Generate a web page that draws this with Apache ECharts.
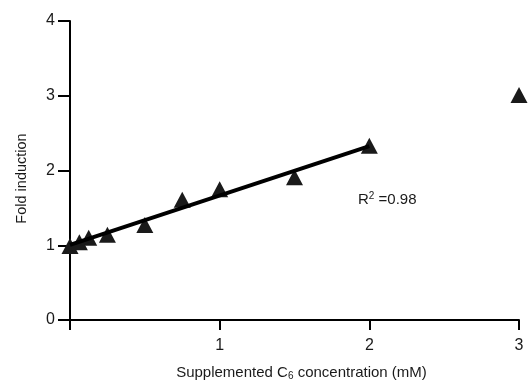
<!DOCTYPE html>
<html>
<head>
<meta charset="utf-8">
<script src="https://cdn.jsdelivr.net/npm/echarts@6/dist/echarts.min.js"></script>
<style>
  html, body { margin: 0; padding: 0; background: #fff; }
  #chart { width: 532px; height: 386px; }
</style>
</head>
<body>
<div id="chart"></div>
<script>
// C6 concentration (mM) and measured fold induction
const concentrations = [0, 0.0625, 0.125, 0.25, 0.5, 0.75, 1, 1.5, 2, 3];
const foldInduction = [0.99, 1.04, 1.1, 1.14, 1.27, 1.61, 1.75, 1.91, 2.33, 3.01];
const fitMaxX = 2; // regression fitted over 0..2 mM
const rSquaredText = '0.98';

const points = concentrations.map((x, i) => [x, foldInduction[i]]);

// least squares line for the points up to fitMaxX
function linearFit(pts) {
    const n = pts.length;
    const mx = pts.reduce((s, p) => s + p[0], 0) / n;
    const my = pts.reduce((s, p) => s + p[1], 0) / n;
    let sxy = 0, sxx = 0;
    pts.forEach(p => { sxy += (p[0] - mx) * (p[1] - my); sxx += (p[0] - mx) ** 2; });
    const slope = sxy / sxx;
    return { slope, intercept: my - slope * mx };
}
const fit = linearFit(points.filter(p => p[0] <= fitMaxX));
const fitLine = [0, fitMaxX].map(x => [x, fit.intercept + fit.slope * x]);

const font = '"Liberation Sans", Arial, sans-serif';
const ink = '#1a1a1a';

const chart = echarts.init(document.getElementById('chart'));
chart.setOption({
    backgroundColor: '#fff',
    animation: false,
    grid: { left: 70, right: 13, top: 21, bottom: 59 },
    xAxis: {
        type: 'value',
        min: 0,
        max: 3,
        interval: 1,
        name: '{a|Supplemented C}{s|6}{a| concentration (mM)}',
        nameLocation: 'middle',
        nameGap: 44,
        nameTextStyle: {
            padding: [0, 0, 0, 14],
            rich: {
                a: { fontFamily: font, fontSize: 15, color: ink },
                s: { fontFamily: font, fontSize: 10, color: ink, padding: [7, 0, 0, 0] }
            }
        },
        axisLine: { lineStyle: { color: '#000', width: 2 } },
        axisTick: { length: 10, lineStyle: { color: '#000', width: 2 } },
        axisLabel: {
            margin: 18,
            fontFamily: font,
            fontSize: 16,
            color: ink,
            formatter: v => (v === 0 ? '' : String(v))
        },
        splitLine: { show: false }
    },
    yAxis: {
        type: 'value',
        min: 0,
        max: 4,
        interval: 1,
        name: 'Fold induction',
        nameLocation: 'middle',
        nameGap: 41,
        nameTextStyle: { fontFamily: font, fontSize: 14.5, color: ink, padding: [0, 16, 0, 0] },
        axisLine: { show: true, lineStyle: { color: '#000', width: 2 } },
        axisTick: { show: true, length: 12, lineStyle: { color: '#000', width: 2 } },
        axisLabel: { margin: 15, fontFamily: font, fontSize: 16, color: ink },
        splitLine: { show: false }
    },
    graphic: [{
        type: 'text',
        left: 358,
        top: 191,
        style: {
            text: '{a|R}{s|2}{a| =' + rSquaredText + '}',
            rich: {
                a: { fontFamily: font, fontSize: 15, fill: ink },
                s: { fontFamily: font, fontSize: 10, fill: ink, padding: [0, 0, 8, 0] }
            }
        }
    }],
    series: [
        {
            type: 'scatter',
            data: points,
            symbol: 'triangle',
            symbolSize: [17, 16],
            clip: false,
            itemStyle: { color: ink, opacity: 1 },
            z: 2
        },
        {
            type: 'line',
            data: fitLine,
            symbol: 'none',
            lineStyle: { color: '#000', width: 4 },
            z: 3
        }
    ]
});
</script>
</body>
</html>
